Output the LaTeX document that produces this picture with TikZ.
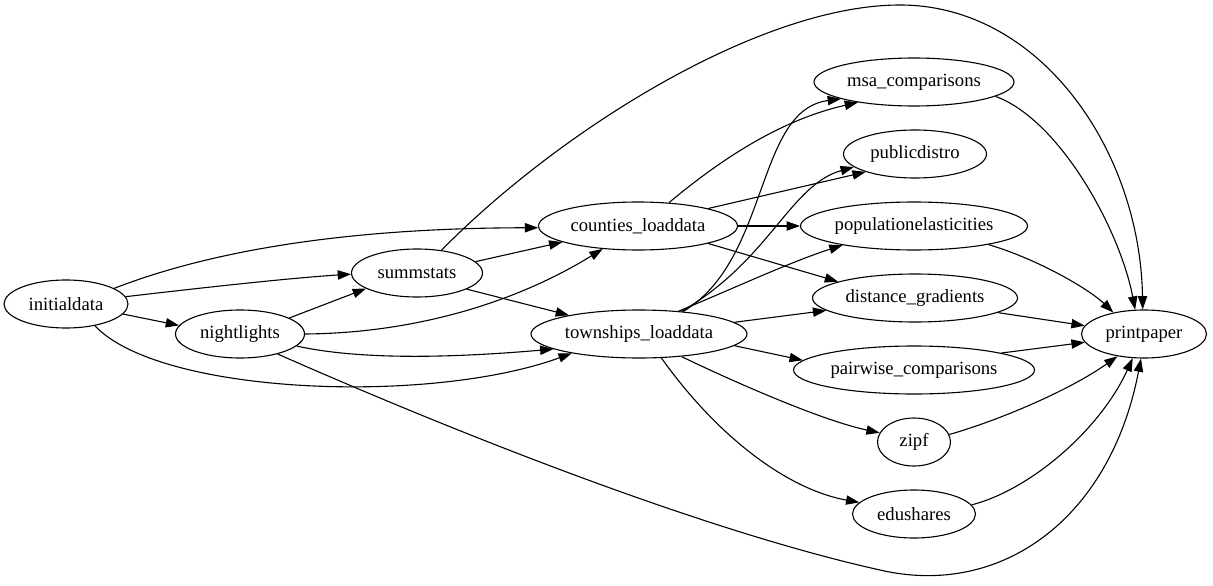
\documentclass[tikz,border=0pt]{standalone}
\usepackage{fontspec}
\setmainfont{Liberation Serif}
\usetikzlibrary{shapes.geometric,arrows.meta}
\begin{document}
\begin{tikzpicture}[x=1pt,y=-1pt,
  nd/.style={ellipse,draw,line width=1.1pt,inner sep=0pt,minimum height=48pt,font=\fontsize{18.67}{22}\selectfont},
  ed/.style={line width=1.1pt,-{Triangle[length=13.3pt,width=9.3pt]}}]
\useasboundingbox (0,0) rectangle (1213,586);
\node[nd,minimum width=124pt] (init) at (66,304) {initialdata};
\node[nd,minimum width=129pt] (night) at (240,334) {nightlights};
\node[nd,minimum width=131pt] (summ) at (417,273) {summstats};
\node[nd,minimum width=199pt] (counties) at (638,226) {counties\_loaddata};
\node[nd,minimum width=216pt] (town) at (639,334) {townships\_loaddata};
\node[nd,minimum width=200pt] (msa) at (914,82) {msa\_comparisons};
\node[nd,minimum width=143pt] (pub) at (915,154) {publicdistro};
\node[nd,minimum width=227pt] (pop) at (914,226) {populationelasticities};
\node[nd,minimum width=205pt] (dist) at (915,298) {distance\_gradients};
\node[nd,minimum width=241pt] (pair) at (914,370) {pairwise\_comparisons};
\node[nd,minimum width=73pt] (zipf) at (914,442) {zipf};
\node[nd,minimum width=123pt] (edu) at (914,514) {edushares};
\node[nd,minimum width=125pt] (print) at (1144,334) {printpaper};

\draw[ed] (init.18) .. controls (200,255) and (330,228) .. (counties.181);
\draw[ed] (init.7) .. controls (200,288) and (290,278) .. (summ.181);
\draw[ed] (init.-10) -- (night.172);
\draw[ed] (init.-37) .. controls (160,395) and (430,405) .. (town.196);
\draw[ed] (night.18) -- (summ.197);
\draw[ed] (night.0) .. controls (420,333) and (520,300) .. (counties.213);
\draw[ed] (night.-12) .. controls (360,360) and (450,358) .. (town.190);
\draw[ed] (night.-28) .. controls (450,430) and (700,530) .. (880,570) .. controls (1000,598) and (1110,520) .. (print.-97);
\draw[ed] (summ.11) -- (counties.192);
\draw[ed] (summ.-18) -- (town.165);
\draw[ed] (summ.43) .. controls (560,130) and (760,5) .. (900,5) .. controls (1040,5) and (1140,150) .. (print.93);
\draw[ed] (counties.37) .. controls (720,160) and (780,120) .. (msa.200);
\draw[ed] (counties.14) -- (pub.200);
\draw[ed] (counties.0) -- (pop.180);
\draw[ed] (counties.-14) -- (dist.168);
\draw[ed] (town.27) .. controls (770,260) and (755,110) .. (msa.193);
\draw[ed] (town.28) .. controls (770,260) and (790,185) .. (pub.192);
\draw[ed] (town.30) .. controls (730,290) and (790,262) .. (pop.195);
\draw[ed] (town.7) -- (dist.188);
\draw[ed] (town.-7) -- (pair.175);
\draw[ed] (town.-28) .. controls (730,380) and (820,420) .. (zipf.165);
\draw[ed] (town.-47) .. controls (720,440) and (790,490) .. (edu.168);
\draw[ed] (msa.-10) .. controls (1060,120) and (1120,230) .. (print.110);
\draw[ed] (pop.-14) .. controls (1040,260) and (1090,290) .. (print.145);
\draw[ed] (dist.-10) -- (print.172);
\draw[ed] (pair.11) -- (print.188);
\draw[ed] (zipf.12) .. controls (1000,420) and (1070,390) .. (print.-140);
\draw[ed] (edu.9) .. controls (1030,490) and (1100,430) .. (print.-115);
\end{tikzpicture}
\end{document}
